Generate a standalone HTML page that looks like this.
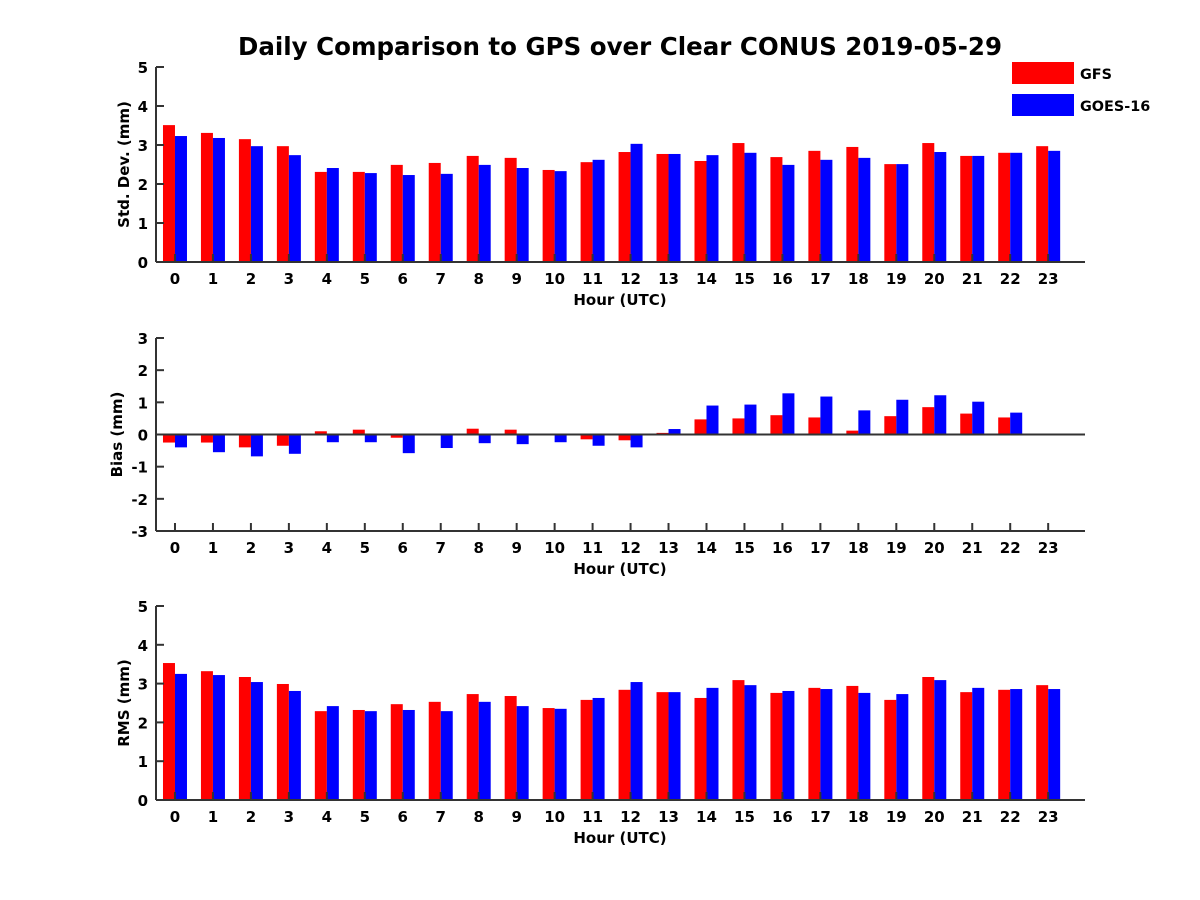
<!DOCTYPE html>
<html><head><meta charset="utf-8"><style>
body{margin:0;background:#fff;}
svg{display:block;font-family:"DejaVu Sans","Liberation Sans",sans-serif;font-weight:bold;}
</style></head><body>
<svg id="fig" width="1200" height="900">
<text x="620" y="55" font-size="24.5" text-anchor="middle" fill="#000">Daily Comparison to GPS over Clear CONUS 2019-05-29</text>
<g>
<rect x="1012" y="62" width="62" height="22" fill="#f00"/>
<text x="1080" y="79" font-size="14.4">GFS</text>
<rect x="1012" y="94" width="62" height="22" fill="#00f"/>
<text x="1080" y="111" font-size="14.4">GOES-16</text>
</g>
</svg>
<script>
const hours=[0,1,2,3,4,5,6,7,8,9,10,11,12,13,14,15,16,17,18,19,20,21,22,23];
const stdGFS=[3.51,3.31,3.15,2.97,2.31,2.31,2.49,2.54,2.72,2.67,2.36,2.56,2.82,2.77,2.59,3.05,2.69,2.85,2.95,2.51,3.05,2.72,2.8,2.97];
const stdGOES=[3.23,3.18,2.97,2.74,2.41,2.28,2.23,2.26,2.49,2.41,2.33,2.62,3.03,2.77,2.74,2.8,2.49,2.62,2.67,2.51,2.82,2.72,2.8,2.85];
const biasGFS=[-0.25,-0.25,-0.4,-0.35,0.1,0.15,-0.1,0,0.18,0.15,0,-0.15,-0.18,0.05,0.47,0.5,0.6,0.53,0.12,0.57,0.85,0.65,0.53,0.02];
const biasGOES=[-0.4,-0.55,-0.68,-0.6,-0.24,-0.24,-0.58,-0.42,-0.27,-0.3,-0.24,-0.35,-0.4,0.17,0.9,0.93,1.28,1.18,0.75,1.08,1.22,1.02,0.68,0];
const rmsGFS=[3.53,3.32,3.17,2.99,2.29,2.32,2.47,2.53,2.73,2.68,2.37,2.58,2.84,2.78,2.63,3.09,2.76,2.89,2.94,2.58,3.17,2.78,2.84,2.96];
const rmsGOES=[3.25,3.22,3.04,2.81,2.42,2.29,2.32,2.29,2.53,2.42,2.35,2.63,3.04,2.78,2.89,2.96,2.81,2.86,2.76,2.73,3.09,2.89,2.86,2.86];
const stdTicks=[0,1,2,3,4,5];
const biasTicks=[-3,-2,-1,0,1,2,3];
const rmsTicks=[0,1,2,3,4,5];

const NS='http://www.w3.org/2000/svg';
const svg=document.getElementById('fig');
const X0=156,X1=1085,XMIN=-0.5,XMAX=23.97;
function xs(v){return X0+(v-XMIN)/(XMAX-XMIN)*(X1-X0);}
function mk(tag,attrs,parent){const e=document.createElementNS(NS,tag);for(const k in attrs)e.setAttribute(k,attrs[k]);(parent||svg).appendChild(e);return e;}

function panel(key,top,bottom,ymin,ymax,ticks,a,b,ylabel,ylx){
  const g=mk('g',{});
  
  
  const ys=v=>bottom-(v-ymin)/(ymax-ymin)*(bottom-top);
  const base=ys(Math.max(ymin,0));
  const bw=12;
  hours.forEach((h,i)=>{
    const r=mk('rect',{x:xs(h)-bw,y:Math.min(ys(a[i]),base),width:bw,height:Math.abs(ys(a[i])-base),fill:'#f00'},g);
    
    
    const q=mk('rect',{x:xs(h),y:Math.min(ys(b[i]),base),width:bw,height:Math.abs(ys(b[i])-base),fill:'#00f'},g);
    
    
  });
  mk('line',{x1:X0,y1:top,x2:X0,y2:bottom,stroke:'#333','stroke-width':2},g);
  mk('line',{x1:X0,y1:bottom,x2:X1,y2:bottom,stroke:'#333','stroke-width':2},g);
  if(ymin<0) mk('line',{x1:X0,y1:ys(0),x2:X1,y2:ys(0),stroke:'#333','stroke-width':2},g);
  ticks.forEach(t=>{
    mk('line',{x1:X0,y1:ys(t),x2:X0+8,y2:ys(t),stroke:'#333','stroke-width':2},g);
    const tx=mk('text',{x:X0-8,y:ys(t)+6,'font-size':15,'text-anchor':'end'},g);
    tx.textContent=t;
    
    
  });
  hours.forEach(h=>{
    mk('line',{x1:xs(h),y1:bottom,x2:xs(h),y2:bottom-8,stroke:'#333','stroke-width':2},g);
    const tx=mk('text',{x:xs(h),y:bottom+22,'font-size':15,'text-anchor':'middle'},g);
    tx.textContent=h;
    
    
  });
  const xl=mk('text',{x:620,y:bottom+43,'font-size':15,'text-anchor':'middle'},g);
  xl.textContent='Hour (UTC)';
  
  
  const cy=(top+bottom)/2;
  const yl=mk('text',{x:ylx,y:cy,'font-size':15,'text-anchor':'middle',transform:'rotate(-90 '+ylx+' '+cy+')'},g);
  yl.textContent=ylabel;
  
  
}
panel('std',67,262,0,5,stdTicks,stdGFS,stdGOES,'Std. Dev. (mm)',129);
panel('bias',338,531,-3,3,biasTicks,biasGFS,biasGOES,'Bias (mm)',122);
panel('rms',606,800,0,5,rmsTicks,rmsGFS,rmsGOES,'RMS (mm)',129);
</script>
</body></html>
